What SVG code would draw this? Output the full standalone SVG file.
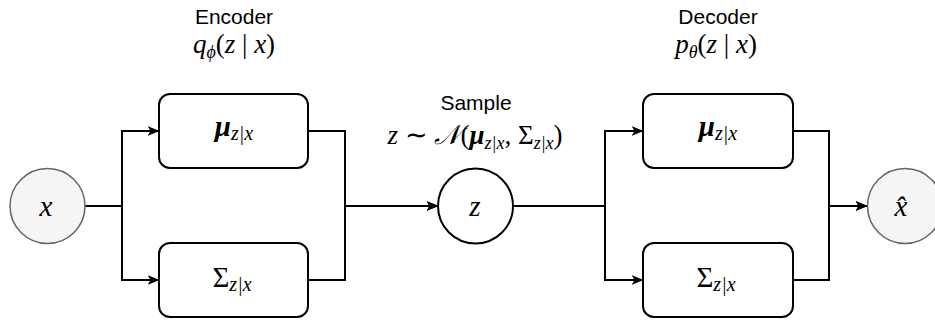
<svg xmlns="http://www.w3.org/2000/svg" width="935" height="324" viewBox="0 0 935 324">
<defs>
<marker id="arr" viewBox="0 0 12 10" refX="11.5" refY="5" markerWidth="12" markerHeight="10" markerUnits="userSpaceOnUse" orient="auto">
<path d="M0,0 L12,5 L0,10 L3,5 Z" fill="#000"/>
</marker>
<style>
.box{fill:#fff;stroke:#000;stroke-width:2}
.io{fill:#f5f5f5;stroke:#666;stroke-width:1.5}
.zc{fill:#fff;stroke:#000;stroke-width:2}
.edge{fill:none;stroke:#000;stroke-width:2}
.arrow{marker-end:url(#arr)}
.title{font-family:"Liberation Sans",Arial,Helvetica,sans-serif;font-size:21px;fill:#000;text-anchor:middle}
.math{font-family:"Liberation Serif","Times New Roman",serif;font-size:27px;fill:#000;text-anchor:middle}
.it{font-style:italic}
.big{font-family:"Liberation Serif","Times New Roman",serif;font-size:29px;fill:#000;text-anchor:middle}
</style>
</defs>
<rect width="935" height="324" fill="#fff"/>
<g id="connectors">
<path class="edge arrow" d="M85,206 H122 V131 H159"/>
<path class="edge arrow" d="M85,206 H122 V280 H159"/>
<path class="edge arrow" d="M308,131 H345 V206 H438"/>
<path class="edge arrow" d="M308,280 H345 V206 H438"/>
<path class="edge arrow" d="M513,206 H605 V131 H643"/>
<path class="edge arrow" d="M513,206 H605 V280 H643"/>
<path class="edge arrow" d="M793,131 H829 V206 H867"/>
<path class="edge arrow" d="M793,280 H829 V206 H867"/>
</g>
<g id="encoder-label">
<text class="title" x="234" y="24">Encoder</text>
<text class="math" x="234" y="53"><tspan class="it">q</tspan><tspan class="it" font-size="18" dy="5">ϕ</tspan><tspan dy="-5">(</tspan><tspan class="it">z</tspan> | <tspan class="it">x</tspan>)</text>
</g>
<g id="sample-label">
<text class="title" x="476" y="110">Sample</text>
<text class="math" x="475" y="144"><tspan class="it">z</tspan> ∼ <tspan class="it">𝒩</tspan>(<tspan class="it" font-weight="bold">μ</tspan><tspan class="it" font-size="18" dy="5">z|x</tspan><tspan dy="-5">, Σ</tspan><tspan class="it" font-size="18" dy="5">z|x</tspan><tspan dy="-5">)</tspan></text>
</g>
<g id="decoder-label">
<text class="title" x="718" y="24">Decoder</text>
<text class="math" x="716" y="53"><tspan class="it">p</tspan><tspan class="it" font-size="18" dy="5">θ</tspan><tspan dy="-5">(</tspan><tspan class="it">z</tspan> | <tspan class="it">x</tspan>)</text>
</g>
<g id="x">
<circle class="io" cx="47.5" cy="206" r="37.5"/>
<text class="big it" x="46" y="216">x</text>
</g>
<g id="enc-mu">
<rect class="box" x="159" y="94" width="149" height="74" rx="11"/>
<text class="big" x="234" y="136"><tspan class="it" font-weight="bold">μ</tspan><tspan class="it" font-size="20" dy="4">z|x</tspan></text>
</g>
<g id="enc-sigma">
<rect class="box" x="159" y="243" width="149" height="74" rx="11"/>
<text class="big" x="232" y="287"><tspan>Σ</tspan><tspan class="it" font-size="20" dy="4">z|x</tspan></text>
</g>
<g id="z">
<circle class="zc" cx="475.5" cy="206" r="37.5"/>
<text class="big it" x="475" y="216">z</text>
</g>
<g id="dec-mu">
<rect class="box" x="643" y="94" width="150" height="74" rx="11"/>
<text class="big" x="718" y="136"><tspan class="it" font-weight="bold">μ</tspan><tspan class="it" font-size="20" dy="4">z|x</tspan></text>
</g>
<g id="dec-sigma">
<rect class="box" x="643" y="243" width="150" height="74" rx="11"/>
<text class="big" x="716" y="287"><tspan>Σ</tspan><tspan class="it" font-size="20" dy="4">z|x</tspan></text>
</g>
<g id="xhat">
<circle class="io" cx="905" cy="206" r="37.5"/>
<text class="big it" x="901" y="216">x&#x302;</text>
</g>
</svg>
